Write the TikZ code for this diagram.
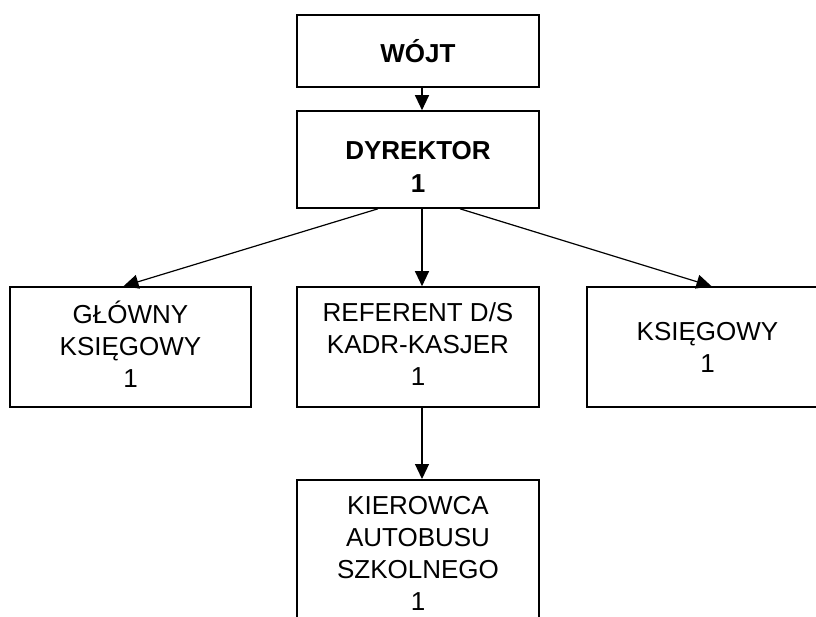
\documentclass[tikz,border=0pt]{standalone}
\usepackage{fontspec}
\setmainfont{Liberation Sans}
\usetikzlibrary{arrows.meta}

\tikzset{
  unit/.style={draw, line width=1.6pt, align=center, inner sep=0pt,
    minimum width=242pt, minimum height=120pt,
    font=\fontsize{26}{32}\selectfont},
  link/.style={-{Triangle[length=15pt,width=14pt]}, line width=1.2pt}
}

\begin{document}
\begin{tikzpicture}[x=1pt, y=1pt]
    \useasboundingbox (0,0) rectangle (816,-617);

    % top of the chart
    \node[unit, minimum height=72pt, font=\fontsize{26}{32}\selectfont\bfseries] (wojt) at (418,-51) {WÓJT};
    \node[unit, minimum height=97pt, font=\fontsize{26}{33}\selectfont\bfseries] (dyr) at (418,-159.5) {\rule{0pt}{33pt}DYREKTOR\\1};

    % second row
    \node[unit, minimum width=241pt] (gk) at (130.5,-347) {GŁÓWNY\\KSIĘGOWY\\1\rule[-6pt]{0pt}{6pt}};
    \node[unit] (ref) at (418,-347) {REFERENT D/S\\KADR-KASJER\\1\rule[-6pt]{0pt}{6pt}};
    \node[unit, minimum width=241pt] (ks) at (707.5,-347) {KSIĘGOWY\\1};

    % bottom
    \node[unit, minimum height=148pt, anchor=north] (kier) at (418,-479) {KIEROWCA\\AUTOBUSU\\SZKOLNEGO\\1};

    \draw[link] ([xshift=4pt]wojt.south) -- ([xshift=4pt]dyr.north);
    \draw[link] ([xshift=-40pt]dyr.south) -- ([xshift=-7pt]gk.north);
    \draw[link] ([xshift=4pt]dyr.south) -- ([xshift=4pt]ref.north);
    \draw[link] ([xshift=42pt]dyr.south) -- ([xshift=4pt]ks.north);
    \draw[link] ([xshift=4pt]ref.south) -- ([xshift=4pt]kier.north);

\end{tikzpicture}
\end{document}
